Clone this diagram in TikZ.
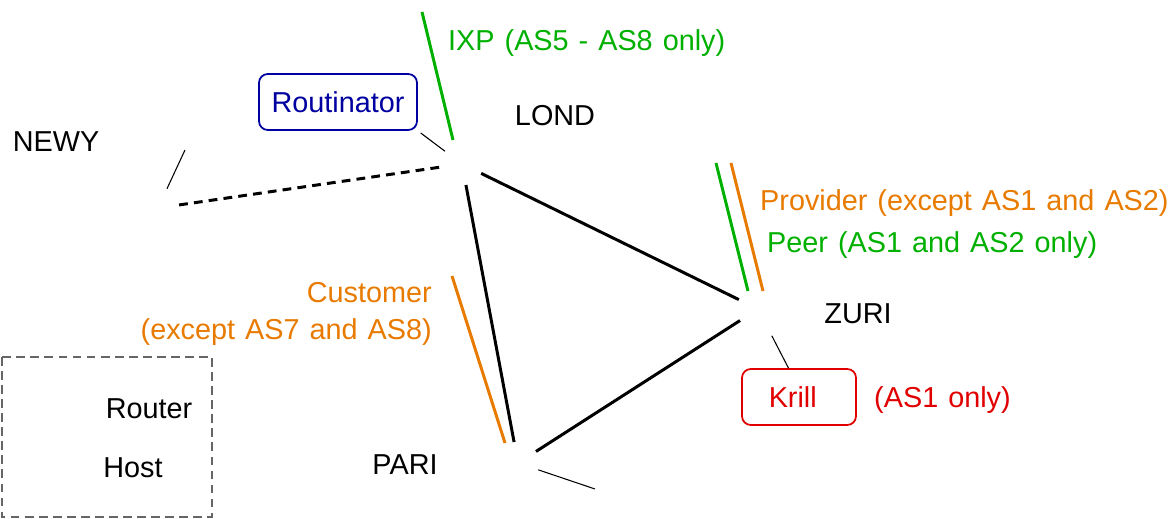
\documentclass[tikz,border=0pt]{standalone}
\usepackage{fontspec}
\setmainfont{Liberation Sans}[WordSpace=1.25]
\definecolor{ixpgreen}{RGB}{0,176,0}
\definecolor{relorange}{RGB}{232,122,0}
\definecolor{rpblue}{RGB}{0,0,160}
\definecolor{rpred}{RGB}{225,0,0}

\begin{document}
\begin{tikzpicture}[x=0.02cm, y=-0.02cm,
  every node/.style={font=\fontsize{16.4}{21}\selectfont},
  router/.style={circle, minimum size=0.84cm, inner sep=0pt},
  rpbox/.style={draw, rounded corners=5pt, line width=1pt, minimum height=1.12cm},
  link/.style={line width=1.7pt},
  stub/.style={line width=0.6pt}]
  \useasboundingbox (0,0) rectangle (1175,519);

  % routers
  \node[router] (newy) at (158,208) {};
  \node[router] (lond) at (462,164) {};
  \node[router] (zuri) at (758,309) {};
  \node[router] (pari) at (518,463) {};

  \node (newyl) at (56,142) {NEWY};
  \node (londl) at (555,116) {LOND};
  \node (zuril) at (858,314) {ZURI};
  \node (paril) at (405,465) {PARI};

  % validators
  \node[rpbox, draw=rpblue, text=rpblue, minimum width=3.16cm] (routinator) at (338,102) {Routinator};
  \node[rpbox, draw=rpred, text=rpred, inner xsep=0pt, text width=2.28cm, align=center] (krill) at (799,397) {Krill\hspace*{0.25cm}};
  \node[text=rpred, anchor=west] (krilll) at (868,400) {(AS1 only)};

  % legend
  \draw[dashed, gray!80!black, line width=0.6pt, dash pattern=on 5pt off 3pt] (2,357) rectangle (212,517);
  \node (routerl) at (149,409) {Router};
  \node (hostl) at (133,468) {Host};

  % free ends
  \coordinate (A) at (185,150);
  \coordinate (B) at (595,489);

  \draw[link] (lond) -- (zuri);
  \draw[link] (lond) -- (pari);
  \draw[link] (pari) -- (zuri);
  \draw[link, dash pattern=on 5pt off 3.5pt] (newy) -- (lond);
  \draw[stub] (newy) -- (A);
  \draw[stub] (pari) -- (B);
  \draw[stub, shorten <=2pt] (routinator.south east) -- (lond);
  \draw[stub, shorten <=5pt] (zuri) -- (krill.110);

  % relations
  \coordinate (C) at (422,12);
  \coordinate (D) at (453,140);
  \coordinate (E) at (716,163);
  \coordinate (F) at (748,291);
  \coordinate (G) at (731,163);
  \coordinate (H) at (763,291);
  \coordinate (I) at (452,276);
  \coordinate (J) at (505,443);
  \draw[link, ixpgreen] (C) -- (D);
  \draw[link, ixpgreen] (E) -- (F);
  \draw[link, relorange] (G) -- (H);
  \draw[link, relorange] (I) -- (J);

  \node[text=ixpgreen, anchor=west] (ixpl) at (442,43) {IXP (AS5 - AS8 only)};
  \node[text=relorange, anchor=west] (provl) at (754,203) {Provider (except AS1 and AS2)};
  \node[text=ixpgreen, anchor=west] (peerl) at (761,245) {Peer (AS1 and AS2 only)};
  \node[text=relorange, anchor=east, align=right] (custl) at (438,314) {Customer\\(except AS7 and AS8)};
\end{tikzpicture}
\end{document}
